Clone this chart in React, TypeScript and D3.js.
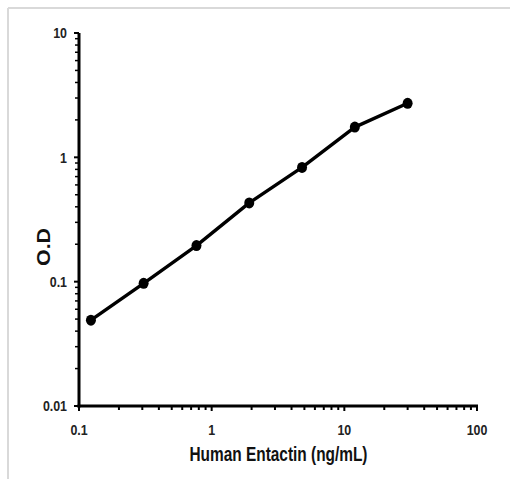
import React from "react";
import * as d3 from "d3";

const concentrations = [0.123, 0.307, 0.768, 1.92, 4.8, 12, 30];
const odValues = [0.049, 0.097, 0.195, 0.43, 0.83, 1.75, 2.72];
const xTickValues = [0.1, 1, 10, 100];
const xTickLabels = ["0.1", "1", "10", "100"];
const yTickValues = [0.01, 0.1, 1, 10];
const yTickLabels = ["0.01", "0.1", "1", "10"];
const xTitle = "Human Entactin (ng/mL)";
const yTitle = "O.D";

const W = 510;
const H = 479;
const left = 79, right = 477, top = 33, bottom = 406;

function minorTicks(lo: number, hi: number): number[] {
  const out: number[] = [];
  for (let d = lo; d < hi; d *= 10) {
    for (let k = 2; k <= 9; k++) out.push(d * k);
  }
  return out;
}

export default function App() {
  const x = d3.scaleLog().domain([0.1, 100]).range([left, right]);
  const y = d3.scaleLog().domain([0.01, 10]).range([bottom, top]);
  const line = d3
    .line<number>()
    .x((_, i) => x(concentrations[i]))
    .y((d) => y(d));
  const font = "'Liberation Sans', Arial, sans-serif";
  const tickFs = 15.5;
  const sx = 0.8;
  return (
    <svg
      width={W}
      height={H}
      style={{ position: "absolute", left: 0, top: 0, background: "#fff" }}
    >
      <rect x={0} y={0} width={W} height={H} fill="#fff" />
      <line x1={8} y1={8} x2={W} y2={8} stroke="#d9d9d9" strokeWidth={2} />
      <line x1={8} y1={8} x2={8} y2={H} stroke="#d9d9d9" strokeWidth={2} />

      {/* minor ticks */}
      {minorTicks(0.1, 100).map((t, i) => (
        <line key={"xm" + i} x1={x(t)} x2={x(t)} y1={bottom} y2={bottom + 4} stroke="#000" strokeWidth={2} />
      ))}
      {minorTicks(0.01, 10).map((t, i) => (
        <line key={"ym" + i} x1={left - 4} x2={left} y1={y(t)} y2={y(t)} stroke="#000" strokeWidth={1.5} />
      ))}
      {xTickValues.map((t) => (
        <line key={"xM" + t} x1={x(t)} x2={x(t)} y1={bottom} y2={bottom + 5} stroke="#000" strokeWidth={2} />
      ))}
      {yTickValues.map((t) => (
        <line key={"yM" + t} x1={left - 5} x2={left} y1={y(t)} y2={y(t)} stroke="#000" strokeWidth={2} />
      ))}

      {/* axes */}
      <line x1={left} x2={left} y1={top} y2={bottom + 1.5} stroke="#000" strokeWidth={3} />
      <line x1={left - 1.5} x2={right + 1} y1={bottom} y2={bottom} stroke="#000" strokeWidth={3} />

      {/* tick labels */}
      {xTickValues.map((t, i) => (
        <text
          key={"xl" + t}
          x={x(t)}
          y={bottom + 29.5}
          textAnchor="middle"
          fontFamily={font}
          fontWeight="bold"
          fontSize={tickFs}
          fill="#222"
          transform={`translate(${x(t)},0) scale(${sx},1) translate(${-x(t)},0)`}
        >
          {xTickLabels[i]}
        </text>
      ))}
      {yTickValues.map((t, i) => (
        <text
          key={"yl" + t}
          x={left - 12}
          y={y(t) + 5.5}
          textAnchor="end"
          fontFamily={font}
          fontWeight="bold"
          fontSize={tickFs}
          fill="#222"
          transform={`translate(${left - 12},0) scale(${sx},1) translate(${-(left - 12)},0)`}
        >
          {yTickLabels[i]}
        </text>
      ))}

      {/* titles */}
      <text
        x={278.5}
        y={461}
        textAnchor="middle"
        fontFamily={font}
        fontWeight="bold"
        fontSize={19.5}
        fill="#111"
        textLength={178}
        lengthAdjust="spacingAndGlyphs"
      >
        {xTitle}
      </text>
      <text
        transform={`translate(50,247) rotate(-90)`}
        textAnchor="middle"
        fontFamily={font}
        fontWeight="bold"
        fontSize={18.5}
        fill="#111"
        textLength={38}
        lengthAdjust="spacingAndGlyphs"
      >
        {yTitle}
      </text>

      {/* data */}
      <path d={line(odValues) || ""} fill="none" stroke="#000" strokeWidth={3.4} strokeLinejoin="round" />
      {odValues.map((v, i) => (
        <ellipse key={"p" + i} cx={x(concentrations[i])} cy={y(v)} rx={5} ry={5.5} fill="#000" />
      ))}
    </svg>
  );
}
